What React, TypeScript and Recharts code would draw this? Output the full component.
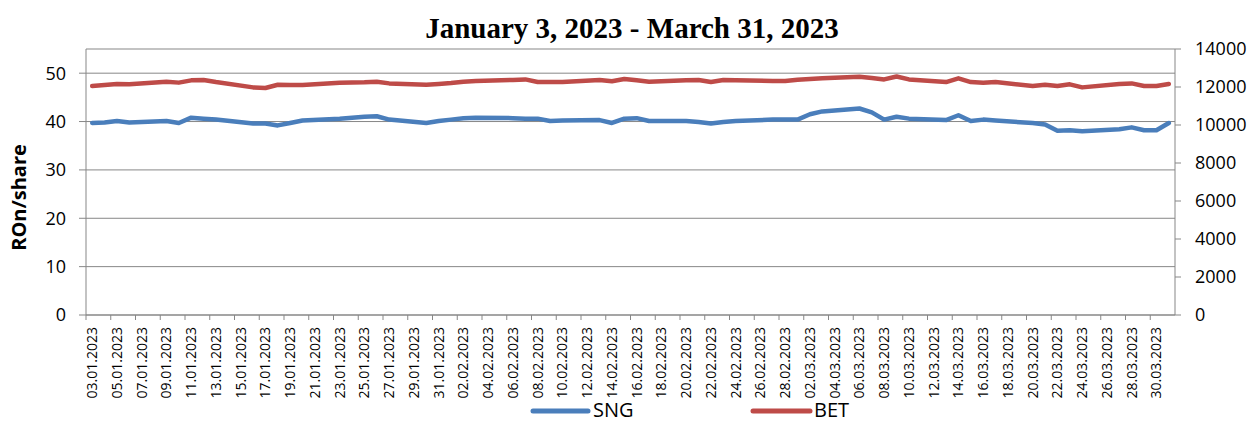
import { LineChart, Line, XAxis, YAxis, CartesianGrid } from "recharts";

const tradingDays = [
  "03.01.2023", "04.01.2023", "05.01.2023", "06.01.2023", "09.01.2023", "10.01.2023", "11.01.2023",
  "12.01.2023", "13.01.2023", "16.01.2023", "17.01.2023", "18.01.2023", "19.01.2023", "20.01.2023",
  "23.01.2023", "25.01.2023", "26.01.2023", "27.01.2023", "30.01.2023", "31.01.2023",
  "01.02.2023", "02.02.2023", "03.02.2023", "06.02.2023", "07.02.2023", "08.02.2023", "09.02.2023",
  "10.02.2023", "13.02.2023", "14.02.2023", "15.02.2023", "16.02.2023", "17.02.2023", "20.02.2023",
  "21.02.2023", "22.02.2023", "23.02.2023", "24.02.2023", "27.02.2023", "28.02.2023",
  "01.03.2023", "02.03.2023", "03.03.2023", "06.03.2023", "07.03.2023", "08.03.2023", "09.03.2023",
  "10.03.2023", "13.03.2023", "14.03.2023", "15.03.2023", "16.03.2023", "17.03.2023", "20.03.2023",
  "21.03.2023", "22.03.2023", "23.03.2023", "24.03.2023", "27.03.2023", "28.03.2023", "29.03.2023",
  "30.03.2023", "31.03.2023",
];

// SNG close, RON/share (left axis)
const sngPrice = [
  39.7, 39.8, 40.1, 39.8, 40.1, 39.7, 40.8, 40.6, 40.4, 39.6, 39.6, 39.2, 39.7, 40.2, 40.6, 41.0, 41.1, 40.4, 39.7, 40.1,
  40.4, 40.7, 40.8, 40.7, 40.6, 40.6, 40.1, 40.2, 40.3, 39.7, 40.6, 40.7, 40.1, 40.1, 39.9, 39.6, 39.9, 40.1, 40.4, 40.4,
  40.4, 41.5, 42.1, 42.7, 41.9, 40.4, 41.0, 40.6, 40.3, 41.3, 40.1, 40.4, 40.2, 39.7, 39.4, 38.1, 38.2, 38.0, 38.4, 38.8,
  38.2, 38.2, 39.7,
];

// BET index level (right axis)
const betIndex = [
  12050, 12100, 12160, 12140, 12280, 12230, 12350, 12370, 12260, 11980, 11950, 12120, 12100, 12100, 12230, 12245, 12280, 12190, 12120, 12160,
  12210, 12280, 12315, 12370, 12400, 12260, 12260, 12260, 12370, 12300, 12420, 12350, 12280, 12350, 12370, 12260, 12370, 12350, 12315, 12315,
  12385, 12420, 12455, 12545, 12475, 12400, 12550, 12400, 12260, 12455, 12260, 12230, 12260, 12050, 12120, 12050, 12140, 11980, 12160, 12190,
  12050, 12050, 12160,
];

const leftTicks = [0, 10, 20, 30, 40, 50];
const rightTicks = [0, 2000, 4000, 6000, 8000, 10000, 12000, 14000];

const W = 1250;
const H = 422;
const LEFT_W = 86;
const RIGHT_W = 75;
const AXIS = "#878787";
const BLUE = "#4A7EBB";
const RED = "#BE4B48";
const FONT = '"Open Sans", sans-serif';

const pad2 = (n: number) => String(n).padStart(2, "0");

// date axis: every calendar day, non-trading days left as gaps
const calendar: string[] = [];
{
  const d = new Date(Date.UTC(2023, 0, 3));
  const end = Date.UTC(2023, 2, 31);
  while (d.getTime() <= end) {
    calendar.push(`${pad2(d.getUTCDate())}.${pad2(d.getUTCMonth() + 1)}.${d.getUTCFullYear()}`);
    d.setUTCDate(d.getUTCDate() + 1);
  }
}

const data = calendar.map((date) => {
  const i = tradingDays.indexOf(date);
  return { date, sng: i >= 0 ? sngPrice[i] : null, bet: i >= 0 ? betIndex[i] : null };
});

const HALF = (W - LEFT_W - RIGHT_W) / calendar.length / 2;

function DateTick({ x, y, payload }: any) {
  return (
    <g>
      <line x1={x - HALF} y1={y - 12} x2={x - HALF} y2={y - 7} stroke={AXIS} />
      <text
        x={x}
        y={y}
        transform={`rotate(-90, ${x}, ${y})`}
        textAnchor="end"
        dy="0.35em"
        fontSize={14}
        fontFamily={FONT}
        fill="#000"
      >
        {payload.value}
      </text>
    </g>
  );
}

export default function App() {
  return (
    <div style={{ position: "absolute", left: 0, top: 0, width: W, height: H, background: "#fff" }}>
      <LineChart width={W} height={H} data={data} margin={{ top: 49, right: 0, bottom: 17, left: 0 }}>
        <CartesianGrid yAxisId="left" vertical={false} stroke={AXIS} />
        <XAxis
          dataKey="date"
          interval={1}
          height={90}
          padding={{ left: HALF, right: HALF }}
          axisLine={{ stroke: AXIS }}
          tickLine={false}
          tickSize={5}
          tickMargin={7}
          tick={(p: any) => <DateTick {...p} />}
        />
        <YAxis
          yAxisId="left"
          width={LEFT_W}
          domain={[0, 55]}
          ticks={leftTicks}
          axisLine={{ stroke: AXIS }}
          tickLine={{ stroke: AXIS }}
          tickSize={7}
          tickMargin={13}
          tick={{ fill: "#000", fontSize: 18, fontFamily: FONT }}
        />
        <YAxis
          yAxisId="right"
          orientation="right"
          width={RIGHT_W}
          domain={[0, 14000]}
          ticks={rightTicks}
          axisLine={{ stroke: AXIS }}
          tickLine={{ stroke: AXIS }}
          tickSize={6}
          tickMargin={14}
          tick={{ fill: "#000", fontSize: 18, fontFamily: FONT }}
        />
        <Line
          yAxisId="left"
          type="linear"
          dataKey="sng"
          name="SNG"
          stroke={BLUE}
          strokeWidth={4.5}
          strokeLinecap="round"
          strokeLinejoin="round"
          dot={false}
          connectNulls
          isAnimationActive={false}
        />
        <Line
          yAxisId="right"
          type="linear"
          dataKey="bet"
          name="BET"
          stroke={RED}
          strokeWidth={4.5}
          strokeLinecap="round"
          strokeLinejoin="round"
          dot={false}
          connectNulls
          isAnimationActive={false}
        />
      </LineChart>
      <svg width={W} height={H} style={{ position: "absolute", left: 0, top: 0, pointerEvents: "none" }}>
        <text
          x={632}
          y={37.5}
          textAnchor="middle"
          fontFamily='"Liberation Serif", serif'
          fontWeight="bold"
          fontSize={29}
          fill="#000"
        >
          January 3, 2023 - March 31, 2023
        </text>
        <text
          x={19}
          y={197.5}
          transform="rotate(-90, 19, 197.5)"
          textAnchor="middle"
          dy="0.35em"
          fontFamily={FONT}
          fontWeight="bold"
          fontSize={20}
          fill="#000"
        >
          ROn/share
        </text>
        <line x1={533} y1={411} x2={588} y2={411} stroke={BLUE} strokeWidth={5} strokeLinecap="round" />
        <text x={593} y={417} fontFamily={FONT} fontSize={20} fill="#000">SNG</text>
        <line x1={753} y1={411} x2={810} y2={411} stroke={RED} strokeWidth={5} strokeLinecap="round" />
        <text x={814} y={417} fontFamily={FONT} fontSize={20} fill="#000">BET</text>
      </svg>
    </div>
  );
}
